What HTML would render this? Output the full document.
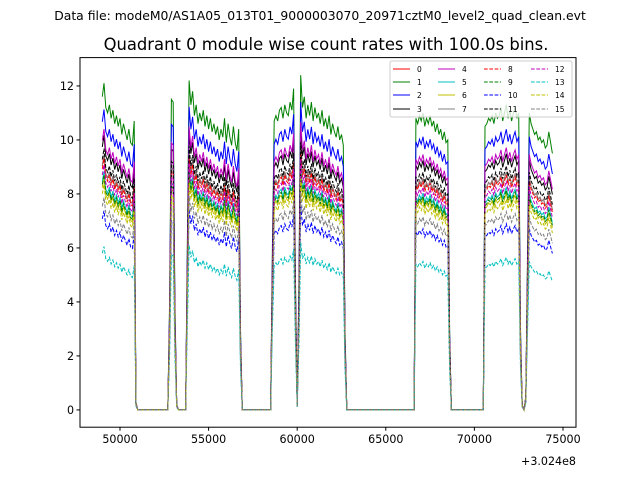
<!DOCTYPE html>
<html><head><meta charset="utf-8"><style>
body{margin:0;background:#fff}
svg{display:block;font-family:"DejaVu Sans","Liberation Sans",sans-serif}
</style></head><body>
<svg id="chart" width="640" height="480" viewBox="0 0 640 480" xmlns="http://www.w3.org/2000/svg">
<rect width="640" height="480" fill="#fff"/>
<text x="320" y="20" font-size="12.4" text-anchor="middle">Data file: modeM0/AS1A05_013T01_9000003070_20971cztM0_level2_quad_clean.evt</text>
<text x="326" y="50" font-size="16.4" text-anchor="middle">Quadrant 0 module wise count rates with 100.0s bins.</text>
<g id="plot"></g>
<rect x="80" y="57.6" width="496" height="369.6" fill="none" stroke="#000" stroke-width="1"/>
<g id="ticks"></g>
<text x="576" y="465" font-size="11.1" text-anchor="end">+3.024e8</text>
<g id="legend"></g>
</svg>
<script>
const times = [];
const base = [];
function seg(t0, vals){ vals.forEach((v,i)=>{ times.push(t0+100*i); base.push(v); }); }
// green-series (module 1) profile
const segA = [11.6,12.1,11.2,11.0,11.3,10.8,11.1,10.6,10.9,10.5,10.8,10.2,10.6,10.3,10.0,10.4,9.9,9.8,10.7,0.3,0];
const spike = [0,4,11.5,11.4,4,0.2,0];
const segB = [0,6,12.2,11.3,11.8,10.9,11.3,10.6,11.0,10.7,11.1,10.5,10.9,10.4,10.8,10.3,10.6,10.2,10.5,10.0,10.4,10.1,10.8,9.9,10.6,10.1,9.8,10.5,9.9,9.6,10.4,3,0];
const segC = [0,6,10.7,10.9,10.7,11.1,11.2,10.8,11.3,11.0,10.9,11.4,11.1,11.9,5,0.2,5,12.4,11.2,11.6,10.8,11.3,10.9,11.4,10.7,11.2,10.8,11.0,10.6,11.1,10.5,10.8,10.4,10.9,10.2,10.6,10.3,10.1,10.5,10.0,10.2,9.8,3,0];
const segE = [0,10.8,10.6,10.9,10.7,11.0,10.5,10.8,10.6,10.9,10.5,10.7,10.3,10.6,10.2,10.4,10.0,10.3,9.9,10.0,3,0];
const segF = [0,10.5,10.6,10.8,10.7,10.9,10.6,11.0,10.8,10.9,11.2,10.7,11.0,11.3,10.8,11.1,10.7,11.0,11.2,10.8,11.0,3,0.2,0,0.5,6,11.0,10.6,10.4,10.2,10.3,10.0,10.1,9.9,10.0,9.7,9.8,10.3,9.9,9.5];
const segStarts = [49000, 52700, 53700, 58500, 66600, 70500];
// relative level of each module vs module 1
const scales = [0.78,1,0.92,0.84,0.86,0.73,0.71,0.78,0.77,0.72,0.61,0.80,0.75,0.50,0.69,0.65];
const colors = ["#ff0000","#008000","#0000ff","#000000","#bf00bf","#00bfbf","#bfbf00","#808080"];
const yTicks = [0,2,4,6,8,10,12];
const xTicks = [50000,55000,60000,65000,70000,75000];

seg(segStarts[0], segA); seg(segStarts[1], spike); seg(segStarts[2], segB);
seg(segStarts[3], segC); seg(segStarts[4], segE); seg(segStarts[5], segF);

const X0=80,X1=576,Y0=427.2,Y1=57.6, xmin=47743,xmax=75734,ymin=-0.64,ymax=13.05;
const xs = t => X0+(t-xmin)/(xmax-xmin)*(X1-X0);
const ys = v => Y0-(v-ymin)/(ymax-ymin)*(Y0-Y1);
const NS="http://www.w3.org/2000/svg";
const plot=document.getElementById('plot'), ticks=document.getElementById('ticks'), legend=document.getElementById('legend');
function mk(tag,attrs,parent){const e=document.createElementNS(NS,tag);for(const k in attrs)e.setAttribute(k,attrs[k]);parent.appendChild(e);return e;}

for(let s=0;s<16;s++){
  const pts = times.map((t,i)=>xs(t).toFixed(1)+","+ys(base[i]*scales[s]).toFixed(1)).join(" ");
  const pl = mk('polyline',{points:pts,fill:"none",stroke:colors[s%8],"stroke-width":1},plot);
  if(s>=8) pl.setAttribute('stroke-dasharray','3.7,1.6');
  
  
}
yTicks.forEach(v=>{
  const y=ys(v);
  const l=mk('line',{x1:X0-3.5,x2:X0,y1:y,y2:y,stroke:"#000"},ticks);
  
  
  const t=mk('text',{x:X0-6,y:y+4,"font-size":11.1,"text-anchor":"end"},ticks);
  t.textContent=v;
  
  
});
xTicks.forEach(v=>{
  const x=xs(v);
  const l=mk('line',{x1:x,x2:x,y1:Y0,y2:Y0+3.5,stroke:"#000"},ticks);
  
  
  const t=mk('text',{x:x,y:Y0+16,"font-size":11.1,"text-anchor":"middle"},ticks);
  t.textContent=v;
  
  
});
const box=mk('rect',{x:390,y:61,width:182,height:56,rx:2,fill:"#fff","fill-opacity":0.8,stroke:"#ccc","stroke-width":1},legend);


const colX=[393,438,484,531], rowY=[69,82,95,109];
for(let s=0;s<16;s++){
  const c=Math.floor(s/4), r=s%4;
  const l=mk('line',{x1:colX[c],x2:colX[c]+17,y1:rowY[r],y2:rowY[r],stroke:colors[s%8],"stroke-width":1},legend);
  if(s>=8) l.setAttribute('stroke-dasharray','3.7,1.6');
  
  
  const t=mk('text',{x:colX[c]+24,y:rowY[r]+3,"font-size":7.5},legend);
  t.textContent=s;
  
  
}
</script>
</body></html>
